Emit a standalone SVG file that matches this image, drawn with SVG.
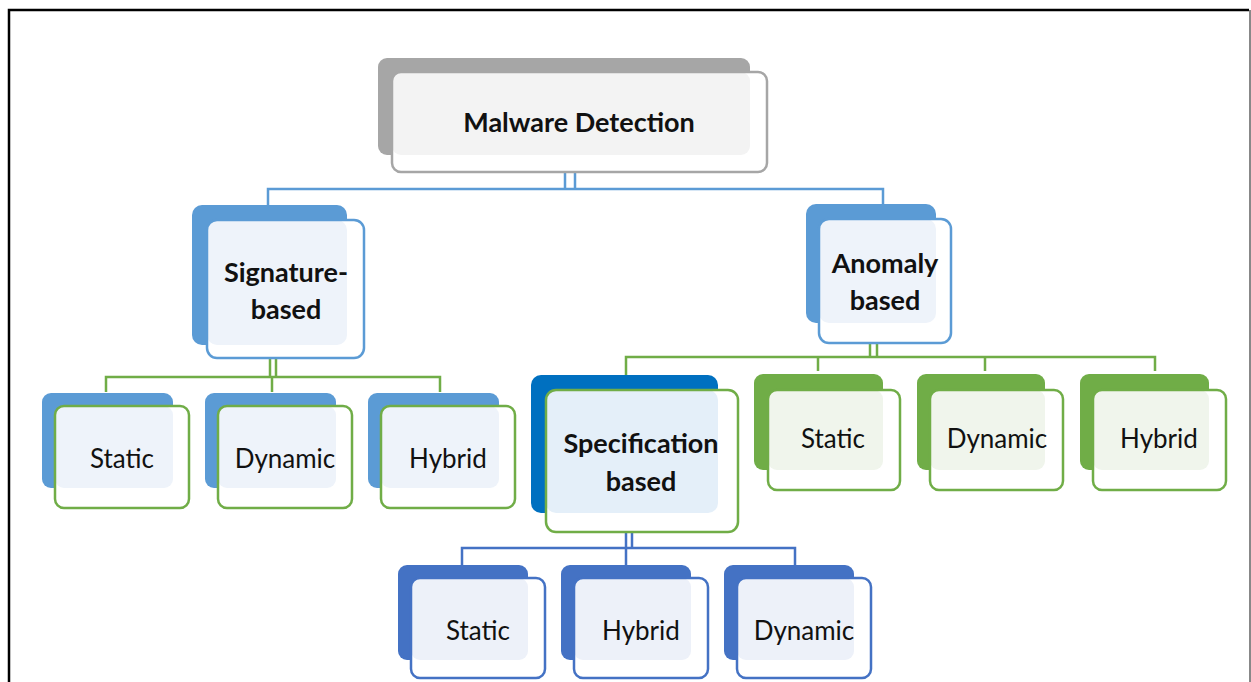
<svg xmlns="http://www.w3.org/2000/svg" width="1251" height="682" viewBox="0 0 1251 682">
<style>
text{font-family:Lato,"Open Sans","Liberation Sans",sans-serif;fill:#111;text-anchor:middle}
.b{font-weight:bold;font-size:27px}
.n{font-size:26px}
.front{fill:none;stroke-width:2.5}
.white{fill:#fff}
.conn line,.conn path{fill:none;stroke-width:2.5}
.bl{stroke:#5B9BD5}
.gr{stroke:#70AD47}
.db{stroke:#4472C4}
</style>
<rect width="1251" height="682" fill="#fff"/>
<path d="M9 682 V10 H1249" fill="none" stroke="#000" stroke-width="2.5"/>
<line x1="1250" y1="10" x2="1250" y2="682" stroke="#888" stroke-width="2"/>

<g class="conn">
  <line x1="565" y1="158" x2="565" y2="190" class="bl"/>
  <line x1="575" y1="158" x2="575" y2="190" class="bl"/>
  <path d="M268 206 V189 H883 V205" class="bl"/>
  <line x1="270" y1="346" x2="270" y2="378" class="gr"/>
  <line x1="276" y1="346" x2="276" y2="378" class="gr"/>
  <path d="M106 392 V377 H440 V392 M272 377 V392" class="gr"/>
  <line x1="870" y1="324" x2="870" y2="358" class="gr"/>
  <line x1="877" y1="324" x2="877" y2="358" class="gr"/>
  <path d="M626 375 V357 H1155 V371 M818 357 V371 M985 357 V371" class="gr"/>
  <line x1="626" y1="514" x2="626" y2="549" class="db"/>
  <line x1="632" y1="514" x2="632" y2="549" class="db"/>
  <path d="M462 565 V548 H795 V565 M626 548 V565" class="db"/>
</g>

<g id="root">
  <rect x="378" y="58" width="372" height="97" rx="9" fill="#A6A6A6"/>
  <rect x="392" y="72" width="375" height="100" rx="9" class="white"/>
  <rect x="392" y="72" width="358" height="83" rx="9" fill="#F3F3F3"/>
  <rect x="392" y="72" width="375" height="100" rx="9" class="front" stroke="#A6A6A6"/>
  <text x="579" y="132" class="b">Malware Detection</text>
</g>

<g id="signature">
  <rect x="192" y="205" width="155" height="140" rx="10" fill="#5B9BD5"/>
  <rect x="207" y="220" width="157" height="138" rx="10" class="white"/>
  <rect x="207" y="220" width="140" height="125" rx="10" fill="#EEF3FA"/>
  <rect x="207" y="220" width="157" height="138" rx="10" class="front" stroke="#5B9BD5"/>
  <text x="286" y="282" class="b">Signature-</text>
  <text x="286" y="319" class="b">based</text>
</g>

<g id="anomaly">
  <rect x="806" y="204" width="130" height="119" rx="10" fill="#5B9BD5"/>
  <rect x="819" y="219" width="132" height="124" rx="10" class="white"/>
  <rect x="819" y="219" width="117" height="104" rx="10" fill="#EEF3FA"/>
  <rect x="819" y="219" width="132" height="124" rx="10" class="front" stroke="#5B9BD5"/>
  <text x="885" y="273" class="b">Anomaly</text>
  <text x="885" y="310" class="b">based</text>
</g>

<g id="sig-static">
  <rect x="42" y="393" width="131" height="95" rx="9" fill="#5B9BD5"/>
  <rect x="55" y="406" width="134" height="102" rx="9" class="white"/>
  <rect x="55" y="406" width="118" height="82" rx="9" fill="#EEF3FA"/>
  <rect x="55" y="406" width="134" height="102" rx="9" class="front" stroke="#70AD47"/>
  <text x="122" y="468" class="n">Static</text>
</g>
<g id="sig-dynamic">
  <rect x="205" y="393" width="131" height="95" rx="9" fill="#5B9BD5"/>
  <rect x="218" y="406" width="134" height="102" rx="9" class="white"/>
  <rect x="218" y="406" width="118" height="82" rx="9" fill="#EEF3FA"/>
  <rect x="218" y="406" width="134" height="102" rx="9" class="front" stroke="#70AD47"/>
  <text x="285" y="468" class="n">Dynamic</text>
</g>
<g id="sig-hybrid">
  <rect x="368" y="393" width="131" height="95" rx="9" fill="#5B9BD5"/>
  <rect x="381" y="406" width="134" height="102" rx="9" class="white"/>
  <rect x="381" y="406" width="118" height="82" rx="9" fill="#EEF3FA"/>
  <rect x="381" y="406" width="134" height="102" rx="9" class="front" stroke="#70AD47"/>
  <text x="448" y="468" class="n">Hybrid</text>
</g>

<g id="specification">
  <rect x="531" y="375" width="187" height="138" rx="10" fill="#0070C0"/>
  <rect x="546" y="390" width="192" height="142" rx="10" class="white"/>
  <rect x="546" y="390" width="172" height="123" rx="10" fill="#E4EFF9"/>
  <rect x="546" y="390" width="192" height="142" rx="10" class="front" stroke="#70AD47"/>
  <text x="641" y="453" class="b">Specification</text>
  <text x="641" y="491" class="b">based</text>
</g>

<g id="ano-static">
  <rect x="754" y="374" width="129" height="96" rx="9" fill="#70AD47"/>
  <rect x="768" y="390" width="132" height="100" rx="9" class="white"/>
  <rect x="768" y="390" width="115" height="80" rx="9" fill="#F0F5EC"/>
  <rect x="768" y="390" width="132" height="100" rx="9" class="front" stroke="#70AD47"/>
  <text x="833" y="448" class="n">Static</text>
</g>
<g id="ano-dynamic">
  <rect x="917" y="374" width="128" height="96" rx="9" fill="#70AD47"/>
  <rect x="930" y="390" width="133" height="100" rx="9" class="white"/>
  <rect x="930" y="390" width="115" height="80" rx="9" fill="#F0F5EC"/>
  <rect x="930" y="390" width="133" height="100" rx="9" class="front" stroke="#70AD47"/>
  <text x="997" y="448" class="n">Dynamic</text>
</g>
<g id="ano-hybrid">
  <rect x="1080" y="374" width="129" height="96" rx="9" fill="#70AD47"/>
  <rect x="1093" y="390" width="133" height="100" rx="9" class="white"/>
  <rect x="1093" y="390" width="116" height="80" rx="9" fill="#F0F5EC"/>
  <rect x="1093" y="390" width="133" height="100" rx="9" class="front" stroke="#70AD47"/>
  <text x="1159" y="448" class="n">Hybrid</text>
</g>

<g id="spec-static">
  <rect x="398" y="565" width="130" height="95" rx="9" fill="#4472C4"/>
  <rect x="411" y="578" width="134" height="100" rx="9" class="white"/>
  <rect x="411" y="578" width="117" height="82" rx="9" fill="#EDF1F9"/>
  <rect x="411" y="578" width="134" height="100" rx="9" class="front" stroke="#4472C4"/>
  <text x="478" y="640" class="n">Static</text>
</g>
<g id="spec-hybrid">
  <rect x="561" y="565" width="130" height="95" rx="9" fill="#4472C4"/>
  <rect x="574" y="578" width="134" height="100" rx="9" class="white"/>
  <rect x="574" y="578" width="117" height="82" rx="9" fill="#EDF1F9"/>
  <rect x="574" y="578" width="134" height="100" rx="9" class="front" stroke="#4472C4"/>
  <text x="641" y="640" class="n">Hybrid</text>
</g>
<g id="spec-dynamic">
  <rect x="724" y="565" width="130" height="95" rx="9" fill="#4472C4"/>
  <rect x="737" y="578" width="134" height="100" rx="9" class="white"/>
  <rect x="737" y="578" width="117" height="82" rx="9" fill="#EDF1F9"/>
  <rect x="737" y="578" width="134" height="100" rx="9" class="front" stroke="#4472C4"/>
  <text x="804" y="640" class="n">Dynamic</text>
</g>
</svg>
